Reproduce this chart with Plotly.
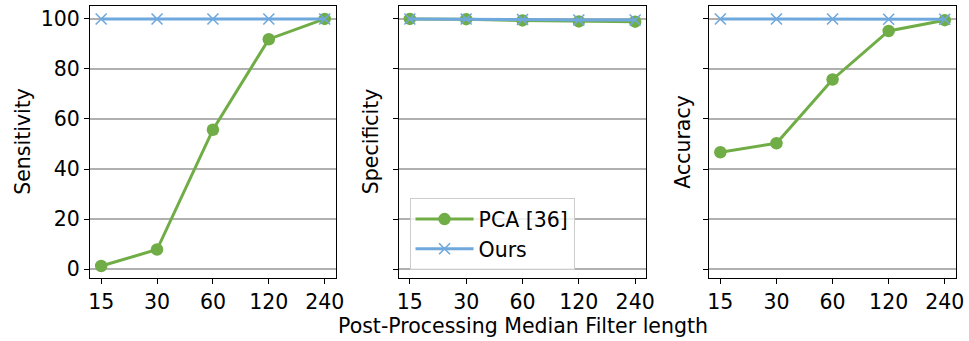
import plotly.graph_objects as go
from plotly.subplots import make_subplots

filter_lengths = ["15", "30", "60", "120", "240"]
sens_pca = [1.2, 7.8, 55.7, 91.9, 100.0]
sens_ours = [100.0, 100.0, 100.0, 100.0, 100.0]
spec_pca = [100.0, 99.9, 99.4, 99.0, 98.9]
spec_ours = [100.0, 100.0, 99.8, 99.6, 99.6]
acc_pca = [46.7, 50.3, 75.8, 95.2, 99.5]
acc_ours = [100.0, 100.0, 100.0, 99.9, 99.9]
y_titles = ["Sensitivity", "Specificity", "Accuracy"]

GREEN = "#70ad47"
BLUE = "#6fa8dc"
FONT = "DejaVu Sans"
FS = 20.5

W, H = 969, 341
L, R, T, B = 90, 9, 5, 63
PW = W - L - R
PH = H - T - B


def px_x(x_ref):
    return (x_ref - L) / PW


def px_y(y_ref):
    return (H - B - y_ref) / PH


fig = make_subplots(rows=1, cols=3, shared_yaxes=True)

panels = [(sens_pca, sens_ours), (spec_pca, spec_ours), (acc_pca, acc_ours)]
for i, (pca, ours) in enumerate(panels):
    col = i + 1
    fig.add_trace(go.Scatter(x=list(range(5)), y=pca, mode="lines+markers",
                             name="PCA [36]", showlegend=(i == 1),
                             line=dict(color=GREEN, width=3),
                             marker=dict(symbol="circle", size=12.5, color=GREEN)),
                  row=1, col=col)
    fig.add_trace(go.Scatter(x=list(range(5)), y=ours, mode="lines+markers",
                             name="Ours", showlegend=(i == 1),
                             line=dict(color=BLUE, width=3),
                             marker=dict(symbol="x-thin", size=11,
                                         line=dict(color=BLUE, width=1.6), color=BLUE)),
                  row=1, col=col)

# ref pixel scale: y=100 at px 18, y=0 at px 269, axes box 5..278
ppu = (269 - 18) / 100.0
y_min = -(278 - 269) / ppu
y_max = 100 + (18 - 5) / ppu

domains_px = [(90, 337), (400, 649), (712, 960)]
for i, (a, b) in enumerate(domains_px):
    xa = "xaxis" if i == 0 else f"xaxis{i+1}"
    ya = "yaxis" if i == 0 else f"yaxis{i+1}"
    fig.layout[xa].update(domain=[px_x(a), min(px_x(b), 1.0)],
                          range=[-0.2, 4.2], tickmode="array",
                          tickvals=list(range(5)), ticktext=filter_lengths,
                          showgrid=False, zeroline=False, showline=True,
                          linecolor="black", linewidth=1, mirror=True,
                          ticks="outside", ticklen=5, tickwidth=1, tickcolor="black",
                          ticklabeloverflow="allow",
                          tickfont=dict(family=FONT, size=FS, color="black"))
    fig.layout[ya].update(range=[y_min, y_max], tickvals=[0, 20, 40, 60, 80, 100],
                          showgrid=True, gridcolor="#b0b0b0", gridwidth=1.5,
                          zeroline=False, showline=True, linecolor="black",
                          linewidth=1, mirror=True, ticks="outside", ticklen=5,
                          tickwidth=1, tickcolor="black",
                          showticklabels=(i == 0), ticklabeloverflow="allow",
                          tickfont=dict(family=FONT, size=FS, color="black"))

annots = []
title_x = [22, 372, 685]
for tx, t in zip(title_x, y_titles):
    annots.append(dict(text=t, x=px_x(tx), y=px_y(141), xref="paper", yref="paper",
                       xanchor="center", yanchor="middle", textangle=-90,
                       showarrow=False, font=dict(family=FONT, size=FS, color="black")))
annots.append(dict(text="Post-Processing Median Filter length", x=px_x(525),
                   y=px_y(326), xref="paper", yref="paper",
                   xanchor="center", yanchor="middle", showarrow=False,
                   font=dict(family=FONT, size=FS, color="black")))

fig.update_layout(
    width=W, height=H, margin=dict(l=L, r=R, t=T, b=B),
    paper_bgcolor="white", plot_bgcolor="white",
    annotations=annots,
    legend=dict(x=px_x(411), y=px_y(198), xanchor="left", yanchor="top",
                bgcolor="rgba(255,255,255,0.8)", bordercolor="#cccccc", borderwidth=1,
                font=dict(family=FONT, size=FS, color="black"),
                itemwidth=58, tracegroupgap=0),
    font=dict(family=FONT, size=FS, color="black"),
)

fig.write_html(
    "out.html",
    config={"displayModeBar": False},
    post_script="document.body.style.margin='0';document.body.style.padding='0';"
                "document.body.style.overflow='hidden';"
                "document.documentElement.style.overflow='hidden';",
)
